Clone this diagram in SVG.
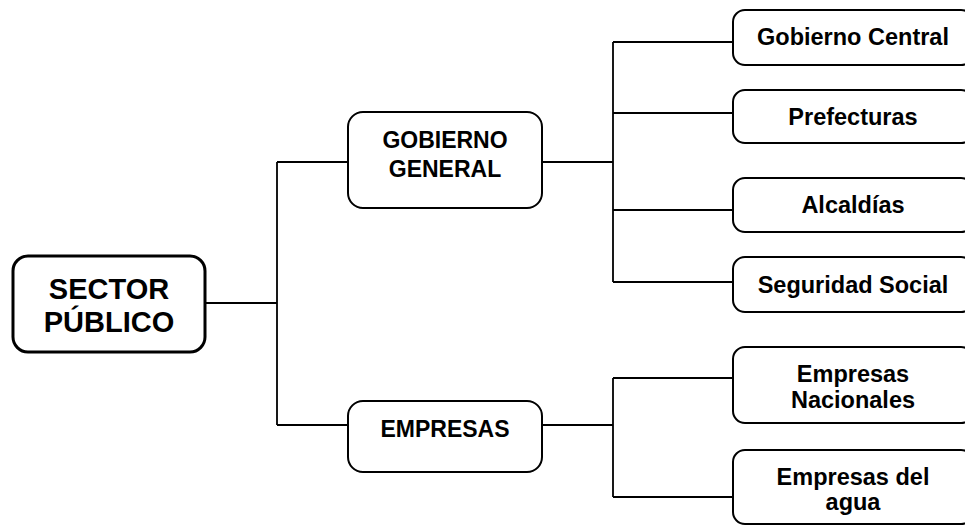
<svg xmlns="http://www.w3.org/2000/svg" width="965" height="526" viewBox="0 0 965 526">
<style>
.box{fill:#fff;stroke:#000;stroke-width:2}
.top{fill:#fff;stroke:#000;stroke-width:3}
.ln{fill:none;stroke:#000;stroke-width:1.8}
text{font-family:"Liberation Sans",Arial,sans-serif;font-weight:bold;fill:#000;text-anchor:middle}
.t1{font-size:29px}
.t2{font-size:23px}
.t3{font-size:23.5px}
</style>
<rect width="965" height="526" fill="#fff"/>
<g id="connectors">
<path class="ln" d="M205,303H277M277,162V425M277,162H348M277,425H348"/>
<path class="ln" d="M542,162H613M613,42V282M613,42H733M613,113H733M613,210H733M613,282H733"/>
<path class="ln" d="M542,425H613M613,378V497M613,378H733M613,497H733"/>
</g>
<g id="sector-publico">
<rect class="top" x="13" y="256" width="192" height="96" rx="15"/>
<text class="t1" x="109" y="299">SECTOR</text>
<text class="t1" x="109" y="332">PÚBLICO</text>
</g>
<g id="gobierno-general">
<rect class="box" x="348" y="112" width="194" height="96" rx="15"/>
<text class="t2" x="445" y="148">GOBIERNO</text>
<text class="t2" x="445" y="177">GENERAL</text>
</g>
<g id="empresas">
<rect class="box" x="348" y="401" width="194" height="71" rx="15"/>
<text class="t2" x="445" y="437">EMPRESAS</text>
</g>
<g id="gobierno-central">
<rect class="box" x="733" y="10" width="240" height="55" rx="12"/>
<text class="t3" x="853" y="45">Gobierno Central</text>
</g>
<g id="prefecturas">
<rect class="box" x="733" y="90" width="240" height="53" rx="12"/>
<text class="t3" x="853" y="125">Prefecturas</text>
</g>
<g id="alcaldias">
<rect class="box" x="733" y="178" width="240" height="54" rx="12"/>
<text class="t3" x="853" y="213">Alcaldías</text>
</g>
<g id="seguridad-social">
<rect class="box" x="733" y="257" width="240" height="55" rx="12"/>
<text class="t3" x="853" y="293">Seguridad Social</text>
</g>
<g id="empresas-nacionales">
<rect class="box" x="733" y="347" width="240" height="76" rx="12"/>
<text class="t3" x="853" y="382">Empresas</text>
<text class="t3" x="853" y="408">Nacionales</text>
</g>
<g id="empresas-del-agua">
<rect class="box" x="733" y="450" width="240" height="74" rx="12"/>
<text class="t3" x="853" y="485">Empresas del</text>
<text class="t3" x="853" y="510">agua</text>
</g>
</svg>
